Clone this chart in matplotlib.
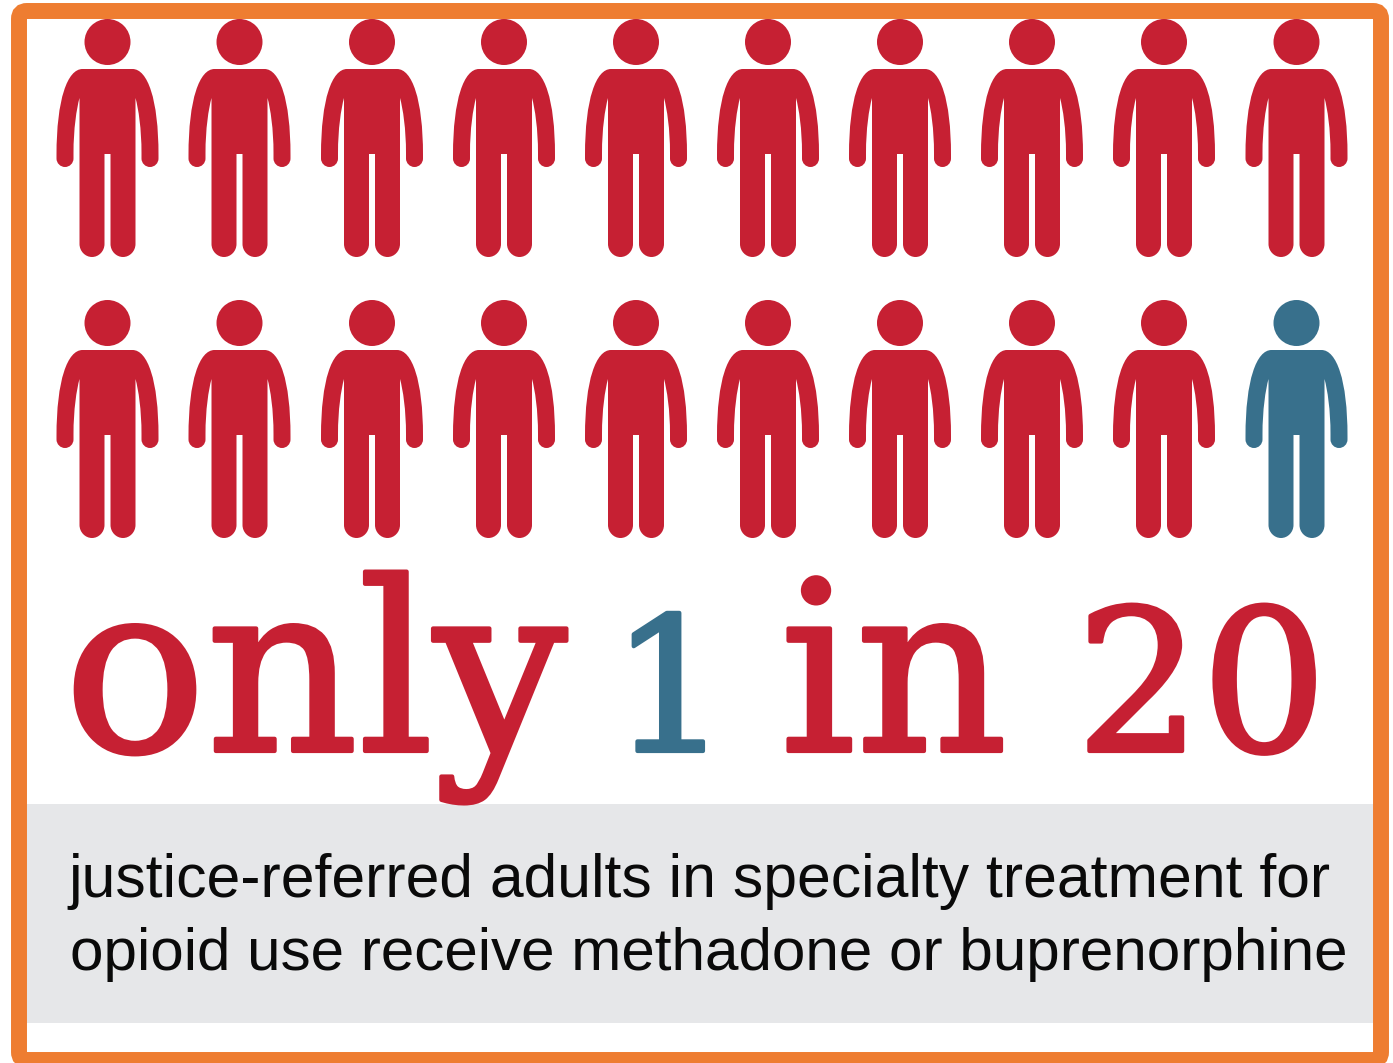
import matplotlib
matplotlib.use('Agg')
import matplotlib.pyplot as plt
import matplotlib.patches as patches
import matplotlib.patheffects as pe
from matplotlib.path import Path

# pictogram data
n_rows = 2
n_cols = 10
total_people = 20
highlighted = [19]

col_centers = [107.5, 239.5, 372, 504, 636, 768, 900, 1032, 1164, 1296.5]
row_tops = [19, 300]

# headline pieces
words = ['only', '1', 'in', '20']
word_x = [64, 611, 780, 1076]
word_sizes = [170, 134, 170, 142]
word_colors = ['red', 'blue', 'red', 'red']

caption = ['justice-referred adults in specialty treatment for',
           'opioid use receive methadone or buprenorphine']
caption_x = [68, 70]
caption_y = [897, 970]
caption_sizes = [43.7, 43.4]

RED = '#C62033'
BLUE = '#38708C'
ORANGE = '#EE7D31'
GREY = '#E6E7E9'
colors = {'red': RED, 'blue': BLUE}


def person_path(cx, top):
    # left half of the outline, top of shoulder to crotch
    left = [(Path.MOVETO, (-25, 50)),
            (Path.CURVE4, (-40, 50)), (Path.CURVE4, (-51, 80)), (Path.CURVE4, (-51, 136)),
            (Path.LINETO, (-51, 139.5)),
            (Path.CURVE4, (-51, 144.2)), (Path.CURVE4, (-47.2, 148)), (Path.CURVE4, (-42.5, 148)),
            (Path.CURVE4, (-37.8, 148)), (Path.CURVE4, (-34, 144.2)), (Path.CURVE4, (-34, 139.5)),
            (Path.LINETO, (-34, 134)),
            (Path.CURVE4, (-34, 110)), (Path.CURVE4, (-31, 90)), (Path.CURVE4, (-28, 79)),
            (Path.LINETO, (-28, 225)),
            (Path.CURVE4, (-28, 232)), (Path.CURVE4, (-22.4, 238)), (Path.CURVE4, (-15.5, 238)),
            (Path.CURVE4, (-8.6, 238)), (Path.CURVE4, (-3, 232)), (Path.CURVE4, (-3, 225)),
            (Path.LINETO, (-3, 135))]
    codes = [c for c, p in left]
    verts = [p for c, p in left]
    # right half is the mirror walked backwards
    m_verts = [(-x, y) for x, y in reversed(verts)]
    m_codes = [Path.LINETO] + list(reversed(codes[1:]))
    verts = verts + m_verts + [(-25, 50)]
    codes = codes + m_codes + [Path.CLOSEPOLY]
    verts = [(cx + x, top + y) for x, y in verts]
    return Path(verts, codes)


fig = plt.figure(figsize=(13.93, 10.63), dpi=100)
ax = fig.add_axes([0, 0, 1, 1])
ax.set_xlim(0, 1393)
ax.set_ylim(1063, 0)
ax.axis('off')

# grey caption band
ax.add_patch(patches.Rectangle((27, 804), 1346, 219, facecolor=GREY, edgecolor='none', zorder=1))

# people
for i in range(total_people):
    r = i // n_cols
    c = i % n_cols
    col = BLUE if i in highlighted else RED
    ax.add_patch(patches.PathPatch(person_path(col_centers[c], row_tops[r]), facecolor=col, edgecolor='none', zorder=2))
    ax.add_patch(patches.Circle((col_centers[c], row_tops[r] + 23), 23, facecolor=col, edgecolor='none', zorder=2))

# headline, stroked a bit since the original face is heavier
for w, x, s, col in zip(words, word_x, word_sizes, word_colors):
    ax.text(x, 751, w, fontsize=s, family='DejaVu Serif', color=colors[col], ha='left', va='baseline', zorder=3,
            path_effects=[pe.withStroke(linewidth=3, foreground=colors[col])])

# caption
for line, x, y, s in zip(caption, caption_x, caption_y, caption_sizes):
    ax.text(x, y, line, fontsize=s, family='Liberation Sans', color='#0a0a0a', ha='left', va='baseline', zorder=4)

# orange frame
ax.add_patch(patches.FancyBboxPatch((19, 11), 1362, 1049, boxstyle='round,pad=0,rounding_size=8', facecolor='none', edgecolor=ORANGE, linewidth=11.5, zorder=5))

fig.savefig('out.png', dpi=100)
